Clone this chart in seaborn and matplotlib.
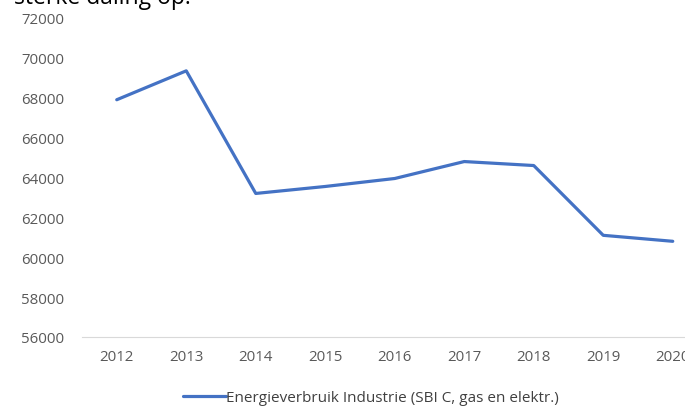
import matplotlib
matplotlib.use("Agg")
import matplotlib.pyplot as plt
import seaborn as sns
import pandas as pd

# data
years = [2012, 2013, 2014, 2015, 2016, 2017, 2018, 2019, 2020]
energy = [67900, 69350, 63200, 63550, 63950, 64800, 64600, 61100, 60800]
series_name = "Energieverbruik Industrie (SBI C, gas en elektr.)"
y_ticks = list(range(56000, 72001, 2000))

df = pd.DataFrame({"year": years, "value": energy})

sns.set_theme(style="white")
plt.rcParams["font.family"] = ["Open Sans", "DejaVu Sans"]

fig = plt.figure(figsize=(6.85, 4.10), dpi=100)
# axes run past the right edge, like the cropped original
ax = fig.add_axes([82 / 685, 72 / 410, 625.5 / 685, 319 / 410])

sns.lineplot(data=df, x="year", y="value", color="#4472C4",
             linewidth=2.3, ax=ax, label=series_name, legend=False)

ax.set_xlim(2011.5, 2020.5)
ax.set_ylim(56000, 72000)
ax.set_xticks(years)
ax.set_xticklabels([str(y) for y in years])
ax.set_yticks(y_ticks)
ax.set_yticklabels([str(t) for t in y_ticks])
ax.set_xlabel("")
ax.set_ylabel("")

for side in ["top", "right", "left"]:
    ax.spines[side].set_visible(False)
ax.spines["bottom"].set_color("#d9d9d9")
ax.spines["bottom"].set_linewidth(0.8)
ax.tick_params(axis="both", length=0, labelsize=10.8, colors="#595959")
ax.tick_params(axis="y", pad=13)
ax.tick_params(axis="x", pad=9)

# legend below the plot
handles, labels = ax.get_legend_handles_labels()
fig.legend(handles, labels, loc="center", bbox_to_anchor=(371 / 685, 11 / 410),
           frameon=False, fontsize=11, handlelength=2.8, handletextpad=0.05,
           labelcolor="#404040")

# cut-off text from the surrounding document
fig.text(14 / 685, 1 - 4 / 410, "sterke daling op.", fontsize=16.5,
         color="black", ha="left", va="baseline")

fig.savefig("out.png", dpi=100)
